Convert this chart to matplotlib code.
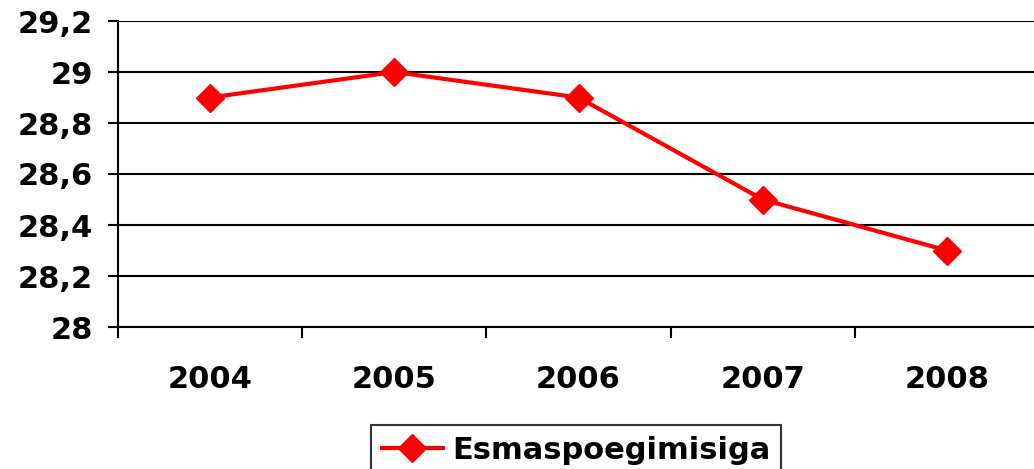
import matplotlib.pyplot as plt
from matplotlib.ticker import FuncFormatter, FixedLocator

years = ['2004', '2005', '2006', '2007', '2008']
values = [28.9, 29.0, 28.9, 28.5, 28.3]
series_name = 'Esmaspoegimisiga'

plt.rcParams['font.family'] = 'DejaVu Sans'
plt.rcParams['font.weight'] = 'bold'

fig = plt.figure(figsize=(10.34, 4.69), dpi=100)
ax = fig.add_axes([118 / 1034, 1 - 327 / 469, 921 / 1034, (327 - 21) / 469])

x = list(range(len(years)))
ax.plot(x, values, color='#ff0000', lw=3, marker='D', markersize=14,
        markerfacecolor='#ff0000', markeredgecolor='#ff0000', label=series_name,
        clip_on=False, zorder=3)

ax.set_xlim(-0.5, len(years) - 0.5)
ax.set_ylim(28, 29.2)
ax.set_yticks([28 + 0.2 * i for i in range(7)])
ax.yaxis.set_major_formatter(FuncFormatter(
    lambda v, p: ('%.1f' % v).rstrip('0').rstrip('.').replace('.', ',')))
ax.yaxis.grid(True, color='black', lw=1.5)
ax.set_axisbelow(True)

# category labels centered, ticks on boundaries
ax.xaxis.set_major_locator(FixedLocator([i - 0.5 for i in range(len(years) + 1)]))
ax.xaxis.set_minor_locator(FixedLocator(x))
ax.set_xticklabels([])
ax.set_xticklabels(years, minor=True)
ax.tick_params(axis='x', which='major', length=8, width=1.5, direction='out')
ax.tick_params(axis='x', which='minor', length=0, pad=27, labelsize=22)
ax.tick_params(axis='y', length=7, width=1.5, direction='out', labelsize=22, pad=11)

for s in ['top', 'right']:
    ax.spines[s].set_visible(False)
ax.spines['left'].set_linewidth(1.5)
ax.spines['bottom'].set_linewidth(1.5)

leg = fig.legend(loc='upper center', bbox_to_anchor=(576 / 1034, 1 - 425 / 469),
                 frameon=True, fancybox=False, edgecolor='black', fontsize=22,
                 handlelength=2.0, borderpad=0.35, handletextpad=0.3,
                 borderaxespad=0)
leg.get_frame().set_linewidth(1.5)

fig.savefig('out.png', dpi=100)
